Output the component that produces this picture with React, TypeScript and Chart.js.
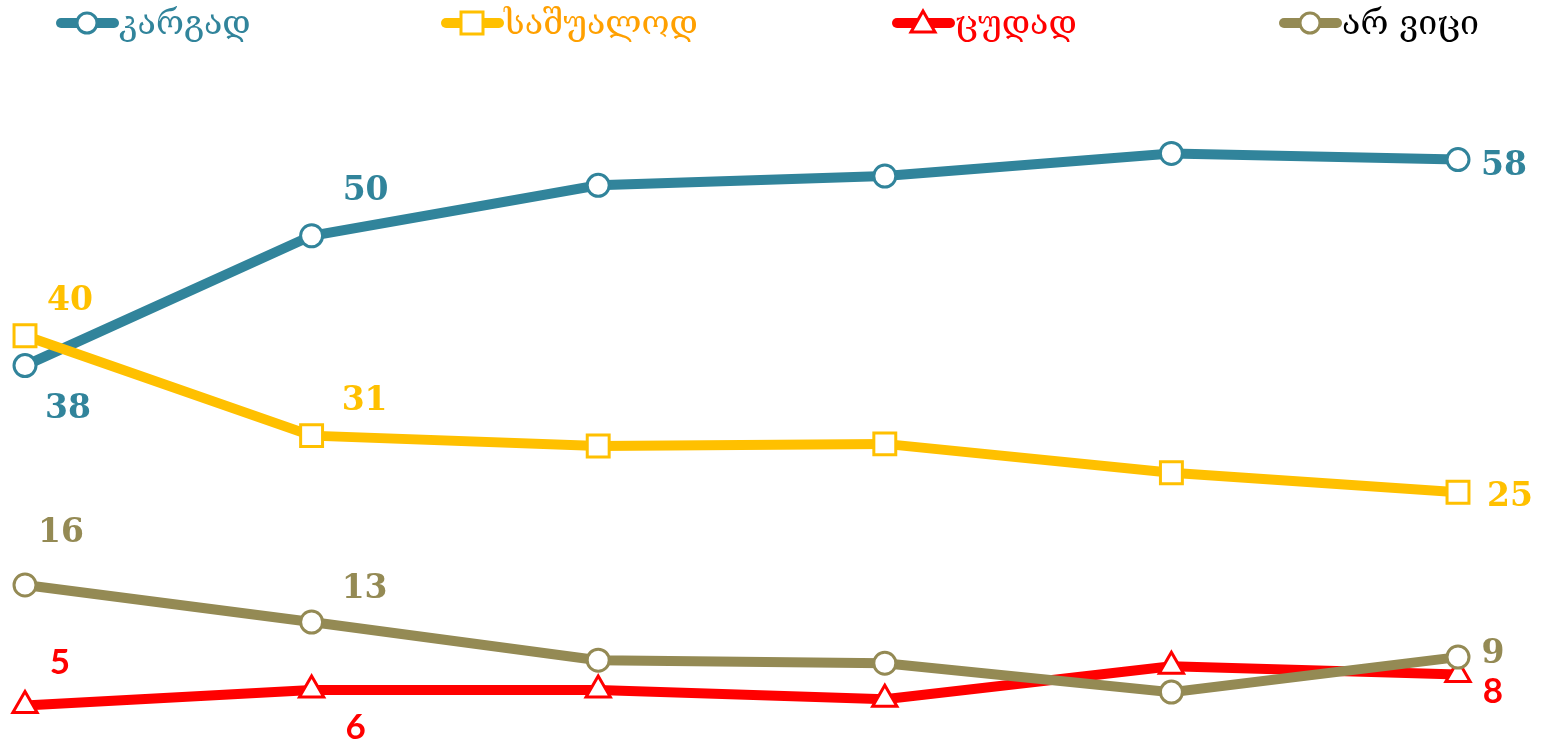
import React, { useEffect, useRef } from "react";
import { Chart, registerables } from "chart.js";

Chart.register(...registerables);

const categories = ["1", "2", "3", "4", "5", "6"];
const seriesNames = ["კარგად", "საშუალოდ", "ცუდად", "არ ვიცი"];
const goodValues = [38, 50.6, 55.5, 56.4, 58.6, 58];
const averageValues = [40.9, 31.2, 30.2, 30.4, 27.6, 25.7];
const badValues = [5, 6.5, 6.5, 5.6, 8.8, 8];
const dontKnowValues = [16.7, 13.1, 9.4, 9.1, 6.3, 9.7];
const goodLabels = ["38", "50", null, null, null, "58"];
const averageLabels = ["40", "31", null, null, null, "25"];
const badLabels = ["5", "6", null, null, null, "8"];
const dontKnowLabels = ["16", "13", null, null, null, "9"];

const TEAL = "#31849B";
const YELLOW = "#FFC000";
const RED = "#FF0000";
const OLIVE = "#948A54";

function drawMarker(ctx: CanvasRenderingContext2D, style: string, x: number, y: number, r: number, color: string, lw: number) {
  ctx.save();
  ctx.fillStyle = "#fff";
  ctx.strokeStyle = color;
  ctx.lineWidth = lw;
  ctx.beginPath();
  if (style === "circle") {
    ctx.arc(x, y, r, 0, Math.PI * 2);
  } else if (style === "rect") {
    ctx.rect(x - r, y - r, r * 2, r * 2);
  } else {
    ctx.moveTo(x, y - r);
    ctx.lineTo(x + r, y + r * 0.75);
    ctx.lineTo(x - r, y + r * 0.75);
    ctx.closePath();
  }
  ctx.fill();
  ctx.stroke();
  ctx.restore();
}

const legendPlugin = {
  id: "customLegend",
  afterDraw(chart: any) {
    const ctx = chart.ctx as CanvasRenderingContext2D;
    const items = chart.options.plugins.customLegend.items;
    items.forEach((it: any, i: number) => {
      const ds = chart.data.datasets[i];
      const y = 23;
      ctx.save();
      ctx.strokeStyle = ds.borderColor;
      ctx.lineWidth = 10;
      ctx.lineCap = "round";
      ctx.beginPath();
      ctx.moveTo(it.x + 5, y);
      ctx.lineTo(it.x + 58, y);
      ctx.stroke();
      ctx.restore();
      drawMarker(ctx, ds.pointStyle === "triangle" ? "triangle" : ds.pointStyle, it.x + 31, y, it.r, ds.borderColor, 3);
      ctx.save();
      ctx.fillStyle = it.color;
      ctx.font = "34px 'DejaVu Serif'";
      ctx.textBaseline = "alphabetic";
      ctx.fillText(ds.label, it.x + 63, y + 11);
      ctx.restore();
    });
  },
};

const labelPlugin = {
  id: "pointLabels",
  afterDatasetsDraw(chart: any) {
    const ctx = chart.ctx as CanvasRenderingContext2D;
    chart.data.datasets.forEach((ds: any, di: number) => {
      const meta = chart.getDatasetMeta(di);
      ds.pointLabels.forEach((txt: string | null, i: number) => {
        if (txt == null) return;
        const el = meta.data[i];
        const off = ds.labelOffsets[i];
        ctx.save();
        ctx.fillStyle = ds.labelColor;
        ctx.font = ds.labelFont;
        ctx.textAlign = "center";
        ctx.textBaseline = "alphabetic";
        ctx.fillText(txt, el.x + off[0], el.y + off[1] + 12);
        ctx.restore();
      });
    });
  },
};

export default function App() {
  const ref = useRef<HTMLCanvasElement>(null);
  useEffect(() => {
    if (!ref.current) return;
    const serif = "bold 33px 'DejaVu Serif'";
    const mk = (label: string, data: number[], color: string, pointStyle: string, labels: any[], offsets: any, order: number, radius: number, labelColor: string, labelFont: string) => ({
      label,
      data,
      borderColor: color,
      backgroundColor: "#fff",
      borderWidth: 10,
      pointStyle,
      pointRadius: radius,
      pointBorderWidth: 3,
      pointBackgroundColor: "#fff",
      pointBorderColor: color,
      tension: 0,
      clip: false,
      order,
      pointLabels: labels,
      labelOffsets: offsets,
      labelColor,
      labelFont,
    });
    const chart = new Chart(ref.current, {
      type: "line",
      data: {
        labels: categories,
        datasets: [
          mk(seriesNames[0], goodValues, TEAL, "circle", goodLabels, { 0: [43, 40], 1: [54, -48], 5: [46, 3] }, 3, 11, TEAL, serif),
          mk(seriesNames[1], averageValues, YELLOW, "rect", averageLabels, { 0: [45, -38], 1: [53, -38], 5: [52, 2] }, 2, 15.5, YELLOW, serif),
          mk(seriesNames[2], badValues, RED, "triangle", badLabels, { 0: [35, -44], 1: [44, 37], 5: [35, 16] }, 1, 14, RED, "bold 35px Lato"),
          mk(seriesNames[3], dontKnowValues, OLIVE, "circle", dontKnowLabels, { 0: [36, -55], 1: [53, -36], 5: [35, -6] }, 0, 11, OLIVE, serif),
        ] as any,
      },
      options: {
        responsive: false,
        animation: false,
        layout: { padding: { left: 25, right: 88, top: 118.4, bottom: 27.2 } },
        scales: {
          x: { display: false, offset: false },
          y: { display: false, min: 4, max: 62 },
        },
        plugins: {
          legend: { display: false },
          tooltip: { enabled: false },
          customLegend: {
            items: [
              { x: 56, color: TEAL, r: 10 },
              { x: 441, color: "#FFA000", r: 11 },
              { x: 892, color: RED, r: 12 },
              { x: 1279, color: "#000000", r: 10 },
            ],
          },
        } as any,
      },
      plugins: [legendPlugin, labelPlugin],
    });
    return () => chart.destroy();
  }, []);
  return (
    <div style={{ position: "fixed", left: 0, top: 0, width: 1546, height: 743, background: "#fff" }}>
      <canvas ref={ref} width={1546} height={743} />
    </div>
  );
}
